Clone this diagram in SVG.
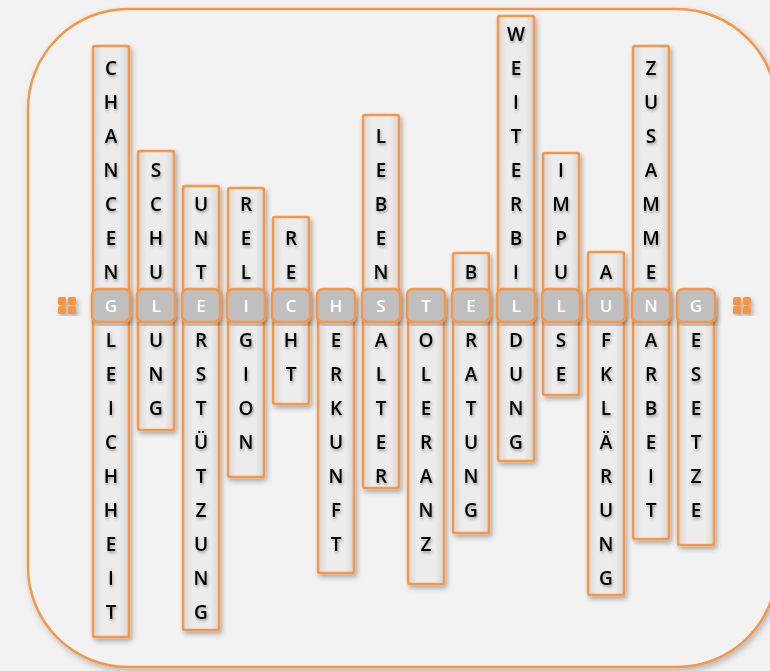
<svg xmlns="http://www.w3.org/2000/svg" width="770" height="671" viewBox="0 0 770 671">
<defs>
<filter id="sh" x="-40%" y="-10%" width="180%" height="120%">
<feDropShadow dx="2" dy="3" stdDeviation="2.5" flood-color="#000" flood-opacity="0.3"/>
</filter>
<filter id="tsh" x="-50%" y="-50%" width="200%" height="200%">
<feDropShadow dx="1" dy="2" stdDeviation="1.5" flood-color="#000" flood-opacity="0.35"/>
</filter>
<filter id="osh" x="-5%" y="-5%" width="110%" height="110%">
<feDropShadow dx="2" dy="3" stdDeviation="3" flood-color="#000" flood-opacity="0.25"/>
</filter>
<linearGradient id="colg" x1="0" y1="0" x2="1" y2="0">
<stop offset="0" stop-color="#d6d6d6"/>
<stop offset="0.25" stop-color="#ececec"/>
<stop offset="0.75" stop-color="#ececec"/>
<stop offset="1" stop-color="#d6d6d6"/>
</linearGradient>
</defs>
<style>
.col{fill:url(#colg);stroke:#f79646;stroke-width:2.5;filter:url(#sh)}
.cell{fill:#bfbfbf;stroke:#f79646;stroke-width:2.5;filter:url(#sh)}
.lt{font-family:"Open Sans","Liberation Sans",sans-serif;font-size:19px;font-weight:600;fill:#000;text-anchor:middle;filter:url(#tsh)}
.ct{font-family:"Open Sans","Liberation Sans",sans-serif;font-size:17px;font-weight:600;fill:#fff;text-anchor:middle}
.sq{fill:#f79646}
</style>
<rect width="770" height="671" fill="#f2f2f2"/>
<rect x="28" y="9" width="749" height="658" rx="100" ry="100" fill="#f2f2f2" stroke="#f79646" stroke-width="2.5" filter="url(#osh)"/>

<g id="icon-left" filter="url(#sh)">
<rect class="sq" x="58" y="297" width="8" height="8" rx="1.5"/>
<rect class="sq" x="68" y="297" width="8" height="8" rx="1.5"/>
<rect class="sq" x="58" y="306" width="8" height="8" rx="1.5"/>
<rect class="sq" x="68" y="306" width="8" height="8" rx="1.5"/>
</g>
<g id="icon-right" filter="url(#sh)">
<rect class="sq" x="733" y="297" width="8" height="8" rx="1.5"/>
<rect class="sq" x="743" y="297" width="8" height="8" rx="1.5"/>
<rect class="sq" x="733" y="306" width="8" height="8" rx="1.5"/>
<rect class="sq" x="743" y="306" width="8" height="8" rx="1.5"/>
</g>

<g id="col-chancengleichheit">
<rect class="col" x="93" y="46" width="36" height="591" rx="2"/>
<text class="lt" x="111" y="75">C</text><text class="lt" x="111" y="109">H</text><text class="lt" x="111" y="143">A</text><text class="lt" x="111" y="177">N</text><text class="lt" x="111" y="211">C</text><text class="lt" x="111" y="245">E</text><text class="lt" x="111" y="279">N</text>
<text class="lt" x="111" y="347">L</text><text class="lt" x="111" y="381">E</text><text class="lt" x="111" y="415">I</text><text class="lt" x="111" y="449">C</text><text class="lt" x="111" y="483">H</text><text class="lt" x="111" y="517">H</text><text class="lt" x="111" y="551">E</text><text class="lt" x="111" y="585">I</text><text class="lt" x="111" y="619">T</text>
<rect class="cell" x="92" y="289" width="38" height="33" rx="6"/><text class="ct" x="111" y="312">G</text>
</g>

<g id="col-schulung">
<rect class="col" x="138" y="151" width="36" height="279" rx="2"/>
<text class="lt" x="156" y="177">S</text><text class="lt" x="156" y="211">C</text><text class="lt" x="156" y="245">H</text><text class="lt" x="156" y="279">U</text>
<text class="lt" x="156" y="347">U</text><text class="lt" x="156" y="381">N</text><text class="lt" x="156" y="415">G</text>
<rect class="cell" x="137" y="289" width="38" height="33" rx="6"/><text class="ct" x="156" y="312">L</text>
</g>

<g id="col-unterstuetzung">
<rect class="col" x="183" y="186" width="36" height="444" rx="2"/>
<text class="lt" x="201" y="211">U</text><text class="lt" x="201" y="245">N</text><text class="lt" x="201" y="279">T</text>
<text class="lt" x="201" y="347">R</text><text class="lt" x="201" y="381">S</text><text class="lt" x="201" y="415">T</text><text class="lt" x="201" y="449">Ü</text><text class="lt" x="201" y="483">T</text><text class="lt" x="201" y="517">Z</text><text class="lt" x="201" y="551">U</text><text class="lt" x="201" y="585">N</text><text class="lt" x="201" y="619">G</text>
<rect class="cell" x="182" y="289" width="38" height="33" rx="6"/><text class="ct" x="201" y="312">E</text>
</g>

<g id="col-religion">
<rect class="col" x="228" y="188" width="36" height="289" rx="2"/>
<text class="lt" x="246" y="211">R</text><text class="lt" x="246" y="245">E</text><text class="lt" x="246" y="279">L</text>
<text class="lt" x="246" y="347">G</text><text class="lt" x="246" y="381">I</text><text class="lt" x="246" y="415">O</text><text class="lt" x="246" y="449">N</text>
<rect class="cell" x="227" y="289" width="38" height="33" rx="6"/><text class="ct" x="246" y="312">I</text>
</g>

<g id="col-recht">
<rect class="col" x="273" y="217" width="36" height="187" rx="2"/>
<text class="lt" x="291" y="245">R</text><text class="lt" x="291" y="279">E</text>
<text class="lt" x="291" y="347">H</text><text class="lt" x="291" y="381">T</text>
<rect class="cell" x="272" y="289" width="38" height="33" rx="6"/><text class="ct" x="291" y="312">C</text>
</g>

<g id="col-herkunft">
<rect class="col" x="318" y="296" width="36" height="277" rx="2"/>
<text class="lt" x="336" y="347">E</text><text class="lt" x="336" y="381">R</text><text class="lt" x="336" y="415">K</text><text class="lt" x="336" y="449">U</text><text class="lt" x="336" y="483">N</text><text class="lt" x="336" y="517">F</text><text class="lt" x="336" y="551">T</text>
<rect class="cell" x="317" y="289" width="38" height="33" rx="6"/><text class="ct" x="336" y="312">H</text>
</g>

<g id="col-lebensalter">
<rect class="col" x="363" y="115" width="36" height="373" rx="2"/>
<text class="lt" x="381" y="143">L</text><text class="lt" x="381" y="177">E</text><text class="lt" x="381" y="211">B</text><text class="lt" x="381" y="245">E</text><text class="lt" x="381" y="279">N</text>
<text class="lt" x="381" y="347">A</text><text class="lt" x="381" y="381">L</text><text class="lt" x="381" y="415">T</text><text class="lt" x="381" y="449">E</text><text class="lt" x="381" y="483">R</text>
<rect class="cell" x="362" y="289" width="38" height="33" rx="6"/><text class="ct" x="381" y="312">S</text>
</g>

<g id="col-toleranz">
<rect class="col" x="408" y="296" width="36" height="288" rx="2"/>
<text class="lt" x="426" y="347">O</text><text class="lt" x="426" y="381">L</text><text class="lt" x="426" y="415">E</text><text class="lt" x="426" y="449">R</text><text class="lt" x="426" y="483">A</text><text class="lt" x="426" y="517">N</text><text class="lt" x="426" y="551">Z</text>
<rect class="cell" x="407" y="289" width="38" height="33" rx="6"/><text class="ct" x="426" y="312">T</text>
</g>

<g id="col-beratung">
<rect class="col" x="453" y="253" width="36" height="280" rx="2"/>
<text class="lt" x="471" y="279">B</text>
<text class="lt" x="471" y="347">R</text><text class="lt" x="471" y="381">A</text><text class="lt" x="471" y="415">T</text><text class="lt" x="471" y="449">U</text><text class="lt" x="471" y="483">N</text><text class="lt" x="471" y="517">G</text>
<rect class="cell" x="452" y="289" width="38" height="33" rx="6"/><text class="ct" x="471" y="312">E</text>
</g>

<g id="col-weiterbildung">
<rect class="col" x="498" y="16" width="36" height="445" rx="2"/>
<text class="lt" x="516" y="41">W</text><text class="lt" x="516" y="75">E</text><text class="lt" x="516" y="109">I</text><text class="lt" x="516" y="143">T</text><text class="lt" x="516" y="177">E</text><text class="lt" x="516" y="211">R</text><text class="lt" x="516" y="245">B</text><text class="lt" x="516" y="279">I</text>
<text class="lt" x="516" y="347">D</text><text class="lt" x="516" y="381">U</text><text class="lt" x="516" y="415">N</text><text class="lt" x="516" y="449">G</text>
<rect class="cell" x="497" y="289" width="38" height="33" rx="6"/><text class="ct" x="516" y="312">L</text>
</g>

<g id="col-impulse">
<rect class="col" x="543" y="153" width="36" height="242" rx="2"/>
<text class="lt" x="561" y="177">I</text><text class="lt" x="561" y="211">M</text><text class="lt" x="561" y="245">P</text><text class="lt" x="561" y="279">U</text>
<text class="lt" x="561" y="347">S</text><text class="lt" x="561" y="381">E</text>
<rect class="cell" x="542" y="289" width="38" height="33" rx="6"/><text class="ct" x="561" y="312">L</text>
</g>

<g id="col-aufklaerung">
<rect class="col" x="588" y="252" width="36" height="343" rx="2"/>
<text class="lt" x="606" y="279">A</text>
<text class="lt" x="606" y="347">F</text><text class="lt" x="606" y="381">K</text><text class="lt" x="606" y="415">L</text><text class="lt" x="606" y="449">Ä</text><text class="lt" x="606" y="483">R</text><text class="lt" x="606" y="517">U</text><text class="lt" x="606" y="551">N</text><text class="lt" x="606" y="585">G</text>
<rect class="cell" x="587" y="289" width="38" height="33" rx="6"/><text class="ct" x="606" y="312">U</text>
</g>

<g id="col-zusammenarbeit">
<rect class="col" x="633" y="46" width="36" height="493" rx="2"/>
<text class="lt" x="651" y="75">Z</text><text class="lt" x="651" y="109">U</text><text class="lt" x="651" y="143">S</text><text class="lt" x="651" y="177">A</text><text class="lt" x="651" y="211">M</text><text class="lt" x="651" y="245">M</text><text class="lt" x="651" y="279">E</text>
<text class="lt" x="651" y="347">A</text><text class="lt" x="651" y="381">R</text><text class="lt" x="651" y="415">B</text><text class="lt" x="651" y="449">E</text><text class="lt" x="651" y="483">I</text><text class="lt" x="651" y="517">T</text>
<rect class="cell" x="632" y="289" width="38" height="33" rx="6"/><text class="ct" x="651" y="312">N</text>
</g>

<g id="col-gesetze">
<rect class="col" x="678" y="296" width="36" height="249" rx="2"/>
<text class="lt" x="696" y="347">E</text><text class="lt" x="696" y="381">S</text><text class="lt" x="696" y="415">E</text><text class="lt" x="696" y="449">T</text><text class="lt" x="696" y="483">Z</text><text class="lt" x="696" y="517">E</text>
<rect class="cell" x="677" y="289" width="38" height="33" rx="6"/><text class="ct" x="696" y="312">G</text>
</g>
</svg>
